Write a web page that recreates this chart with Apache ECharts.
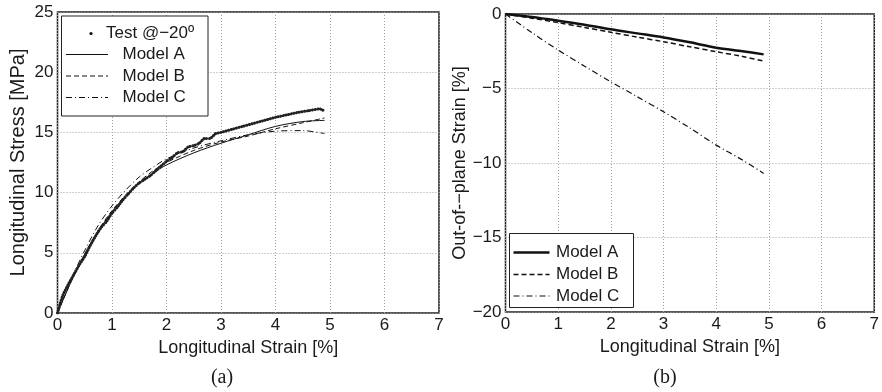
<!DOCTYPE html>
<html>
<head>
<meta charset="utf-8">
<script src="https://cdn.jsdelivr.net/npm/echarts@6/dist/echarts.min.js"></script>
<style>html,body{margin:0;padding:0;background:#fff}#c{width:882px;height:392px}</style>
</head>
<body>
<div id="c"></div>
<script>
// ---- data (a) ----
const testStrain = [0,0.05,0.1,0.2,0.3,0.4,0.5,0.6,0.7,0.8,0.9,1.0,1.1,1.2,1.3,1.4,1.5,1.6,1.7,1.8,1.9,2.0,2.1,2.2,2.3,2.4,2.5,2.6,2.7,2.8,2.9,3.0,3.2,3.4,3.6,3.8,4.0,4.2,4.4,4.6,4.8,4.85,4.9];
const testStress = [0,0.8,1.5,2.4,3.2,4.0,4.7,5.6,6.4,7.1,7.6,8.3,8.8,9.4,9.9,10.4,10.8,11.1,11.4,11.8,12.2,12.6,12.9,13.3,13.4,13.8,13.9,14.1,14.5,14.5,14.9,15.0,15.25,15.5,15.75,16.0,16.25,16.45,16.65,16.8,16.95,16.9,16.75];
const modelStrainA = [0,0.25,0.5,0.75,1.0,1.25,1.5,1.75,2.0,2.5,3.0,3.5,4.0,4.5,4.9];
const stressModelA = [0,2.6,4.9,6.8,8.4,9.7,10.8,11.6,12.3,13.3,14.1,14.8,15.5,15.9,16.0];
const stressModelB = [0,2.6,4.9,6.9,8.5,9.8,10.9,11.8,12.5,13.5,14.2,14.7,15.3,15.8,16.2];
const stressModelC = [0,2.8,5.2,7.3,8.9,10.2,11.3,12.1,12.8,13.7,14.3,14.8,15.1,15.15,14.9];
// ---- data (b) ----
const modelStrainB = [0,0.5,1,1.5,2,2.5,3,3.5,4,4.5,4.9];
const oopModelA = [0,-0.2,-0.45,-0.72,-1.03,-1.3,-1.57,-1.9,-2.26,-2.5,-2.71];
const oopModelB = [0,-0.28,-0.58,-0.9,-1.23,-1.55,-1.86,-2.2,-2.53,-2.85,-3.16];
const oopModelC = [0,-1.25,-2.42,-3.5,-4.55,-5.55,-6.56,-7.65,-8.8,-9.8,-10.7];
// ---- labels ----
const xTitle = 'Longitudinal Strain [%]';
const yTitleA = 'Longitudinal Stress [MPa]';
const yTitleB = 'Out-of-\u2212plane Strain [%]';
const names = ['Test @\u221220\u00ba','Model A','Model B','Model C'];
const captions = ['(a)','(b)'];

const zip = (xs, ys) => xs.map((x, i) => [x, ys[i]]);
const FONT = 'Liberation Sans';
const TXT = '#1a1a1a';
const minus = v => String(v).replace('-', '\u2212');

function xAxis(gi) {
  return {
    gridIndex: gi, type: 'value', min: 0, max: 7, interval: 1,
    name: xTitle, nameLocation: 'middle', nameGap: 24,
    nameTextStyle: {fontFamily: FONT, fontSize: 18, color: TXT},
    axisLine: {show: false}, axisTick: {show: false},
    axisLabel: {fontFamily: FONT, fontSize: 17, color: TXT, margin: 4, showMaxLabel: true},
    splitLine: {show: true, lineStyle: {color: '#a0a0a0', width: 1, type: [1, 2]}}
  };
}
function yAxis(gi, min, max, title, gap, fs) {
  return {
    gridIndex: gi, type: 'value', min: min, max: max, interval: 5,
    name: title, nameLocation: 'middle', nameGap: gap,
    nameTextStyle: {fontFamily: FONT, fontSize: fs, color: TXT},
    axisLine: {show: false}, axisTick: {show: false},
    axisLabel: {fontFamily: FONT, fontSize: 17, color: TXT, margin: 4, formatter: minus},
    splitLine: {show: true, lineStyle: {color: '#a0a0a0', width: 1, type: [1, 2]}}
  };
}

const gfx = [];
const LFONT = '17px "' + FONT + '"';
function legendBox(x, y, w, h) {
  gfx.push({type: 'rect', shape: {x: x, y: y, width: w, height: h}, style: {fill: '#fff', stroke: '#222', lineWidth: 1}, z: 100});
}
function legendLine(x1, x2, y, dash, width) {
  gfx.push({type: 'line', shape: {x1: x1, y1: y, x2: x2, y2: y}, style: {stroke: '#111', lineWidth: width, lineDash: dash}, z: 101});
}
function legendText(x, y, t) {
  gfx.push({type: 'text', x: x, y: y, style: {text: t, fill: TXT, font: LFONT, align: 'left', verticalAlign: 'middle'}, z: 101});
}
// legend (a)
legendBox(61.5, 16, 146.5, 100);
gfx.push({type: 'circle', shape: {cx: 91, cy: 33.5, r: 1.6}, style: {fill: '#111'}, z: 101});
legendText(106, 33.5, names[0]);
legendLine(66, 108, 54.5, null, 1);
legendText(122.5, 54.5, names[1]);
legendLine(66, 108, 76, [5, 3], 1);
legendText(122.5, 76, names[2]);
legendLine(66, 108, 97.5, [6, 3, 1, 3], 1);
legendText(122.5, 97.5, names[3]);
// legend (b)
legendBox(509.5, 233.5, 124, 74);
legendLine(513.5, 549.5, 252.5, null, 2.5);
legendText(556, 252.5, names[1]);
legendLine(513.5, 549.5, 274.5, [5, 3], 1.3);
legendText(556, 274.5, names[2]);
legendLine(513.5, 549.5, 296, [6, 3, 1, 3], 1.1);
legendText(556, 296, names[3]);
// captions
gfx.push({type: 'text', x: 222, y: 378, style: {text: captions[0], fill: TXT, font: '20px "Liberation Serif"', align: 'center', verticalAlign: 'middle'}});
gfx.push({type: 'text', x: 665, y: 378, style: {text: captions[1], fill: TXT, font: '20px "Liberation Serif"', align: 'center', verticalAlign: 'middle'}});

const line = (name, xi, yi, data, dash, width) => ({
  name: name, type: 'line', xAxisIndex: xi, yAxisIndex: yi, data: data,
  symbol: 'none', smooth: 0.3, animation: false, z: 5,
  lineStyle: {color: '#111', width: width, type: dash || 'solid'}
});

const chart = echarts.init(document.getElementById('c'), null, {renderer: 'canvas'});
chart.setOption({
  animation: false,
  backgroundColor: '#fff',
  grid: [
    {left: 57.5, top: 12, width: 381.5, height: 301, show: true, borderColor: '#222', borderWidth: 1.5, backgroundColor: 'transparent'},
    {left: 505.5, top: 14, width: 375.5, height: 298, show: true, borderColor: '#222', borderWidth: 1.5, backgroundColor: 'transparent'}
  ],
  xAxis: [xAxis(0), xAxis(1)],
  yAxis: [yAxis(0, 0, 25, yTitleA, 29, 20), yAxis(1, -20, 0, yTitleB, 35, 18)],
  series: [
    {name: names[0], type: 'line', xAxisIndex: 0, yAxisIndex: 0, data: zip(testStrain, testStress),
     symbol: 'none', smooth: 0.2, z: 6,
     lineStyle: {color: '#222', width: 3, type: [0.1, 2.6], cap: 'round'}},
    line(names[1], 0, 0, zip(modelStrainA, stressModelA), 'solid', 1),
    line(names[2], 0, 0, zip(modelStrainA, stressModelB), [5, 3], 1),
    line(names[3], 0, 0, zip(modelStrainA, stressModelC), [6, 3, 1, 3], 1),
    line(names[1], 1, 1, zip(modelStrainB, oopModelA), 'solid', 2.5),
    line(names[2], 1, 1, zip(modelStrainB, oopModelB), [5, 3], 1.5),
    line(names[3], 1, 1, zip(modelStrainB, oopModelC), [6, 3, 1, 3], 1.2)
  ],
  graphic: gfx
});
</script>
</body>
</html>
